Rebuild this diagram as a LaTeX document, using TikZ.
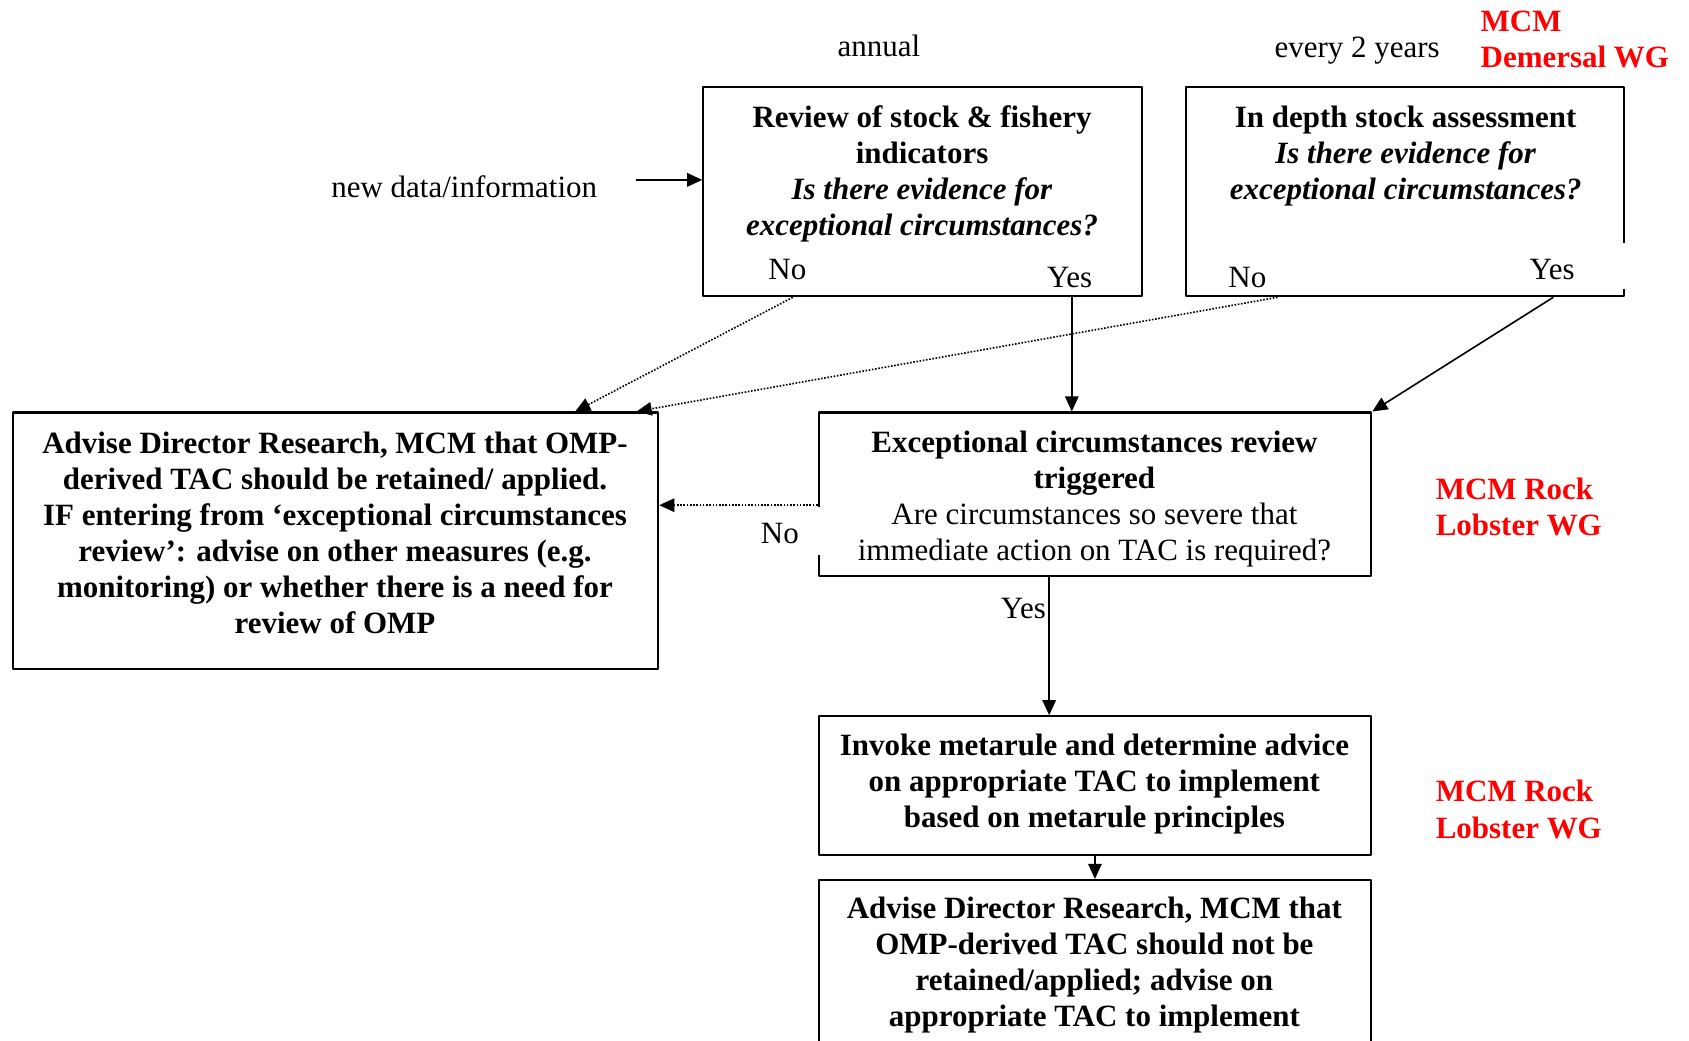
\documentclass[tikz,border=0pt]{standalone}
\usepackage{fontspec}
\setmainfont{Liberation Serif}
\usepackage{tikz}
\usetikzlibrary{arrows.meta,calc}
\definecolor{wgred}{HTML}{FF0000}
\tikzset{
  every picture/.style={
    font=\fontsize{11.5}{13.4}\selectfont,
    line join=round,
    >={Triangle[length=5.6pt,width=5pt]},
  },
  box/.style={draw, line width=0.8pt, inner sep=0pt},
  lbl/.style={inner sep=0pt},
  txt/.style={align=center, inner sep=0pt},
  btxt/.style={txt, font=\fontsize{11.5}{13.4}\selectfont\bfseries},
  wg/.style={text=wgred, align=left, inner sep=0pt,
    font=\fontsize{11.5}{13.4}\selectfont\bfseries},
  conn/.style={->, line width=0.6pt},
  dotconn/.style={->, line width=0.6pt, dash pattern=on 0.6pt off 0.6pt},
}

\begin{document}
\begin{tikzpicture}[x=0.4pt,y=-0.4pt]
\clip (0,0) rectangle (1568,966);
% boxes
\node[box, minimum width=162.8pt, minimum height=77.6pt] (A) at (856.5,178) {};
\node[box, minimum width=162.8pt, minimum height=77.6pt] (B) at (1304.5,178) {};
\node[box, minimum width=239.6pt, minimum height=95.2pt] (C) at (311.5,502) {};
\node[box, minimum width=205.2pt, minimum height=60.8pt] (D) at (1016.5,459) {};
\node[box, minimum width=205.2pt, minimum height=51.6pt] (E) at (1016.5,729.5) {};
\node[box, minimum width=205.2pt, minimum height=64pt] (F) at (1016.5,897) {};
\draw[white, line width=1.6pt] ($(D.west)+(0,12)$) -- ($(D.west)+(0,56)$);
\draw[white, line width=1.6pt] ($(B.east)+(0,48)$) -- ($(B.east)+(0,90)$);
% texts
\node[btxt] (Atxt) at (856,161.5) {Review of stock \& fishery\\indicators\\
  \textit{Is there evidence for}\\\textit{exceptional circumstances?}};
\node[btxt] (Btxt) at (1305,144.5) {In depth stock assessment\\
  \textit{Is there evidence for}\\\textit{exceptional circumstances?}};
\node[btxt] (Ctxt) at (311,494.5) {Advise Director Research, MCM that OMP-\\
  derived TAC should be retained/ applied.\\
  IF entering from `exceptional circumstances\\
  review': advise on other measures (e.g.\\
  monitoring) or whether there is a need for\\review of OMP};
\node[txt] (Dtxt) at (1016,463.5) {\textbf{Exceptional circumstances review}\\
  \textbf{triggered}\\Are circumstances so severe that\\
  immediate action on TAC is required?};
\node[btxt] (Etxt) at (1016,728) {Invoke metarule and determine advice\\
  on appropriate TAC to implement\\based on metarule principles};
\node[btxt] (Ftxt) at (1016,896) {Advise Director Research, MCM that\\
  OMP-derived TAC should not be\\retained/applied; advise on\\
  appropriate TAC to implement};
% labels
\node[lbl] (annual) at (816,43) {annual};
\node[lbl] (biennial) at (1260,47) {every 2 years};
\node[wg] (wgdem) at (1462,37) {MCM\\Demersal WG};
\node[lbl] (newdata) at (431,173) {new data/information};
\node[lbl] (Ano) at (731,250) {No};
\node[lbl] (Ayes) at (993,258) {Yes};
\node[lbl] (Bno) at (1158,258) {No};
\node[lbl] (Byes) at (1441,250) {Yes};
\node[lbl] (Dno) at (724,495) {No};
\node[lbl] (Dyes) at (950,565) {Yes};
\node[wg] (wgrock) at (1410,470.5) {MCM Rock\\Lobster WG};
\node[wg] (wgrockb) at (1410,751.5) {MCM Rock\\Lobster WG};
% connectors
\coordinate (newin) at (590,167);
\draw[conn] (newin) -- (newin -| A.west);
\draw[dotconn] ($(A.south west)+(84,0)$) -- ($(C.north east)+(-78,0)$);
\draw[dotconn] ($(B.south west)+(86,0)$) -- ($(C.north east)+(-21,0)$);
\coordinate (Aout) at ($(A.south west)+(343,0)$);
\draw[conn] (Aout) -- (Aout |- D.north);
\draw[conn] ($(B.south west)+(342,0)$) -- (D.north east);
\coordinate (Dout) at ($(D.west)+(0,10)$);
\draw[dotconn] (Dout) -- (Dout -| C.east);
\coordinate (Dbot) at ($(D.south west)+(215,0)$);
\draw[conn] (Dbot) -- (Dbot |- E.north);
\draw[conn] (E.south) -- (F.north);
\end{tikzpicture}
\end{document}
